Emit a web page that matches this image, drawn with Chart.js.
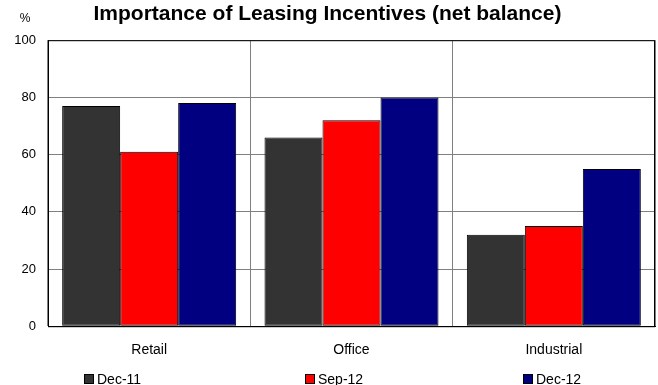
<!DOCTYPE html>
<html>
<head>
<meta charset="utf-8">
<script src="https://cdn.jsdelivr.net/npm/chart.js@4.4.0/dist/chart.umd.min.js"></script>
<style>
  html, body { margin: 0; padding: 0; background: #fff; }
  #wrap { width: 658px; height: 385px; position: relative; }
</style>
</head>
<body>
<div id="wrap"><canvas id="leaseChart"></canvas></div>
<script>
var categories = ["Retail", "Office", "Industrial"];
var seriesNames = ["Dec-11", "Sep-12", "Dec-12"];
var dec11 = [77, 66, 32];
var sep12 = [61, 72, 35];
var dec12 = [78, 80, 55];
var yTicks = [0, 20, 40, 60, 80, 100];

var seriesColors = ["#333333", "#ff0000", "#000080"];
var font = "'Liberation Sans', Arial, sans-serif";
var legendX = [84, 305, 523];   // left edge of each legend box
var legendY = 379;

// frame round the plot area, the "%" unit label and the bottom legend
var framePlugin = {
     id: 'frame',
     afterDraw: function(chart) {
          var ctx = chart.ctx;
          var a = chart.chartArea;
          ctx.save();
          ctx.strokeStyle = '#000';
          ctx.lineWidth = 1;
          ctx.strokeRect(a.left + 0.5, a.top + 0.5, a.right - a.left - 1, a.bottom - a.top);

          ctx.fillStyle = '#000';
          ctx.font = '12px ' + font;
          ctx.textAlign = 'center';
          ctx.textBaseline = 'middle';
          ctx.fillText('%', a.left - 23, 19);

          ctx.font = '14px ' + font;
          ctx.textAlign = 'left';
          chart.data.datasets.forEach(function(ds, i) {
               var x = legendX[i];
               ctx.fillStyle = ds.backgroundColor;
               ctx.fillRect(x, legendY - 5, 10, 10);
               ctx.strokeStyle = '#000';
               ctx.strokeRect(x + 0.5, legendY - 4.5, 9, 9);
               ctx.fillStyle = '#000';
               ctx.fillText(ds.label, x + 13, legendY + 1);
          });
          ctx.restore();
     }
};

var series = [dec11, sep12, dec12];
var datasets = series.map(function(vals, i) {
     return {
          label: seriesNames[i],
          data: vals,
          backgroundColor: seriesColors[i],
          borderColor: '#000',
          borderWidth: 1,
          borderSkipped: false,
          categoryPercentage: 0.86,
          barPercentage: 1.0
     };
});

new Chart(document.getElementById('leaseChart'), {
     type: 'bar',
     data: {
          labels: categories,
          datasets: datasets
     },
     plugins: [framePlugin],
     options: {
          responsive: true,
          maintainAspectRatio: false,
          animation: false,
          layout: { padding: { left: 0, right: 3, top: 0, bottom: 10 } },
          plugins: {
               title: {
                    display: true,
                    text: 'Importance of Leasing Incentives (net balance)',
                    color: '#000',
                    font: { family: font, size: 21, weight: 'bold' },
                    padding: { top: 2, bottom: 13 }
               },
               legend: { display: false },
               tooltip: { enabled: false }
          },
          scales: {
               y: {
                    min: 0,
                    max: 100,
                    afterBuildTicks: function(axis) {
                         axis.ticks = yTicks.map(function(v) { return { value: v }; });
                    },
                    grid: { color: '#808080', drawTicks: false },
                    border: { color: '#000' },
                    ticks: {
                         color: '#000',
                         font: { family: font, size: 13 },
                         padding: 12
                    },
                    afterFit: function(axis) { axis.width = 48; }
               },
               x: {
                    grid: { color: '#808080', drawTicks: false, offset: true },
                    border: { color: '#000' },
                    ticks: {
                         color: '#000',
                         font: { family: font, size: 14 },
                         padding: 16
                    }
               }
          }
     }
});
</script>
</body>
</html>
